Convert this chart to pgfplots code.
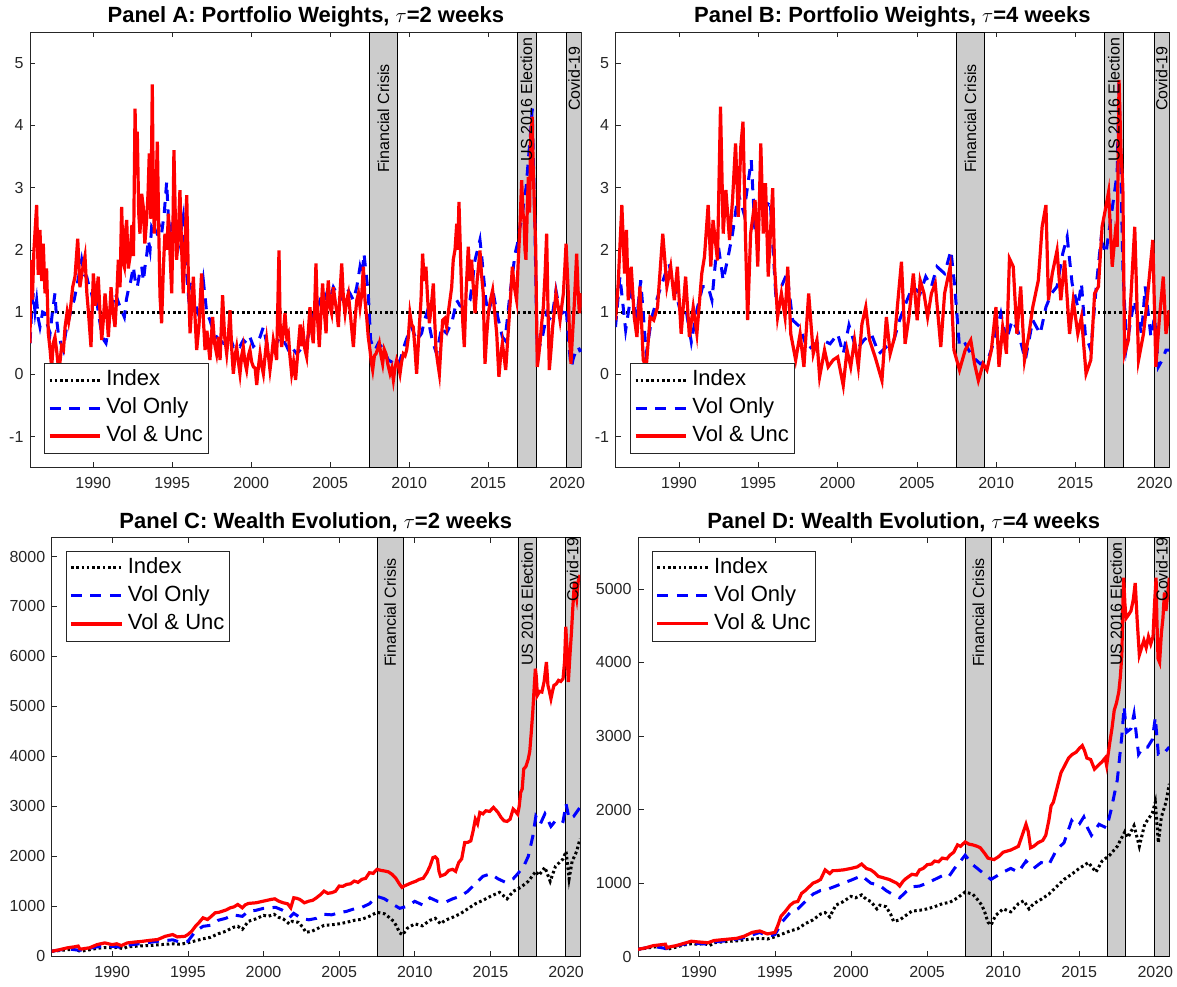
\documentclass[border=0pt]{standalone}
\usepackage{fontspec}
\setmainfont{Liberation Sans}
\usepackage{pgfplots}
\usepackage{pgfplotstable}
\pgfplotsset{compat=1.18}
\definecolor{axgray}{gray}{0.15}
\definecolor{bandgray}{gray}{0.8}

\pgfplotstableread{
x y
1986.00 0.50
1986.05 1.84
1986.15 1.20
1986.25 2.00
1986.42 2.72
1986.52 1.60
1986.63 2.32
1986.74 1.50
1986.84 2.10
1986.95 1.30
1987.05 1.70
1987.16 0.66
1987.27 0.40
1987.37 0.10
1987.47 0.50
1987.58 0.60
1987.70 0.35
1987.80 0.10
1987.90 0.20
1988.00 0.45
1988.12 0.40
1988.22 0.76
1988.35 1.00
1988.45 0.85
1988.53 0.98
1988.70 1.40
1988.85 1.57
1989.02 2.18
1989.16 1.40
1989.30 1.65
1989.48 1.90
1989.60 1.30
1989.69 1.03
1989.86 0.44
1990.01 1.62
1990.15 1.10
1990.32 1.57
1990.43 1.00
1990.54 0.55
1990.65 0.90
1990.75 1.30
1990.85 1.00
1990.96 0.60
1991.05 1.00
1991.13 1.40
1991.25 1.00
1991.38 0.76
1991.50 1.30
1991.59 1.84
1991.70 1.40
1991.80 2.69
1991.90 1.80
1991.97 1.73
1992.05 2.30
1992.12 2.48
1992.22 1.70
1992.33 1.89
1992.45 2.40
1992.55 1.90
1992.65 4.27
1992.72 3.20
1992.79 3.90
1992.88 2.60
1992.96 2.26
1993.07 2.90
1993.17 2.69
1993.27 2.10
1993.38 2.48
1993.47 2.90
1993.55 3.55
1993.65 2.50
1993.74 4.66
1993.80 3.00
1993.87 2.26
1993.96 2.80
1994.06 3.74
1994.15 2.30
1994.23 1.25
1994.33 0.82
1994.44 1.70
1994.54 2.26
1994.66 2.00
1994.76 2.58
1994.87 1.90
1994.97 1.30
1995.05 2.40
1995.11 3.60
1995.20 2.50
1995.28 1.84
1995.38 2.20
1995.49 2.96
1995.60 2.00
1995.70 1.30
1995.80 2.00
1995.92 2.88
1996.02 1.60
1996.13 0.66
1996.24 1.10
1996.34 1.57
1996.45 0.90
1996.55 0.39
1996.70 0.80
1996.86 1.62
1996.97 0.90
1997.08 0.39
1997.20 0.70
1997.30 0.45
1997.39 0.23
1997.56 0.92
1997.68 0.50
1997.81 0.33
1997.92 0.60
1998.03 0.23
1998.19 1.27
1998.32 0.60
1998.45 0.33
1998.55 0.60
1998.66 1.03
1998.77 0.40
1998.87 0.01
1998.98 0.30
1999.08 0.44
1999.19 0.20
1999.29 0.01
1999.40 0.30
1999.50 0.44
1999.60 0.20
1999.71 0.07
1999.82 0.30
1999.92 0.39
2000.03 0.20
2000.14 0.12
2000.25 0.10
2000.35 -0.17
2000.45 0.10
2000.56 0.33
2000.66 0.15
2000.77 0.01
2000.88 0.30
2000.98 0.55
2001.09 0.30
2001.19 0.07
2001.30 0.30
2001.40 0.55
2001.51 0.40
2001.61 0.23
2001.76 1.99
2001.84 0.70
2001.93 0.44
2002.04 0.70
2002.14 0.98
2002.25 0.60
2002.35 0.66
2002.45 0.30
2002.56 0.01
2002.68 0.20
2002.81 -0.09
2002.90 0.20
2002.98 0.44
2003.10 0.80
2003.20 0.45
2003.30 0.66
2003.40 0.40
2003.51 0.28
2003.62 0.70
2003.72 1.08
2003.82 0.70
2003.93 0.50
2004.02 1.10
2004.10 1.78
2004.20 0.90
2004.31 0.44
2004.42 1.00
2004.52 1.46
2004.63 1.00
2004.74 0.66
2004.81 1.20
2004.88 1.51
2004.98 1.10
2005.09 0.98
2005.20 1.40
2005.31 1.19
2005.42 1.00
2005.52 0.76
2005.62 1.30
2005.73 1.78
2005.84 1.20
2005.94 0.98
2006.05 1.20
2006.15 1.30
2006.30 0.90
2006.47 0.44
2006.58 0.90
2006.68 1.19
2006.79 1.30
2006.89 1.08
2007.00 1.30
2007.10 1.73
2007.20 1.20
2007.31 0.92
2007.41 0.60
2007.52 0.39
2007.60 0.20
2007.69 0.07
2007.80 0.30
2007.90 0.33
2008.00 0.40
2008.11 0.50
2008.22 0.30
2008.32 0.17
2008.42 0.40
2008.53 0.33
2008.66 0.15
2008.79 0.01
2008.90 0.10
2009.00 -0.09
2009.10 0.10
2009.21 0.23
2009.31 0.15
2009.42 0.01
2009.52 0.20
2009.63 0.33
2009.74 0.30
2009.84 0.39
2009.95 0.60
2010.05 0.98
2010.16 0.80
2010.26 0.76
2010.37 0.40
2010.47 0.01
2010.56 0.40
2010.64 0.76
2010.75 1.20
2010.85 1.94
2010.95 1.50
2011.06 1.73
2011.17 1.20
2011.28 0.82
2011.40 1.10
2011.53 1.46
2011.61 0.90
2011.70 0.39
2011.80 0.20
2011.91 0.01
2012.02 0.50
2012.12 0.87
2012.25 0.90
2012.37 0.76
2012.48 1.00
2012.58 1.19
2012.69 1.40
2012.79 1.84
2012.90 2.00
2013.01 2.42
2013.08 2.00
2013.15 2.77
2013.24 2.00
2013.32 1.30
2013.40 0.80
2013.49 0.44
2013.60 1.30
2013.74 2.05
2013.85 1.50
2013.95 1.84
2014.06 1.40
2014.17 0.98
2014.30 1.50
2014.48 1.99
2014.58 1.60
2014.69 1.30
2014.75 0.60
2014.80 0.17
2014.90 0.60
2015.01 0.98
2015.15 1.20
2015.28 1.35
2015.41 1.00
2015.54 0.66
2015.61 0.30
2015.68 -0.04
2015.79 0.30
2015.90 0.50
2016.00 0.30
2016.11 0.07
2016.22 0.50
2016.32 0.87
2016.43 1.30
2016.53 1.73
2016.66 1.40
2016.80 1.19
2016.90 1.80
2017.01 2.37
2017.12 3.12
2017.20 2.60
2017.27 2.48
2017.33 2.00
2017.39 1.84
2017.47 2.60
2017.54 3.17
2017.62 2.60
2017.69 3.82
2017.79 4.14
2017.85 3.30
2017.90 2.91
2017.96 2.40
2018.01 2.05
2018.06 1.00
2018.11 0.12
2018.20 0.30
2018.28 0.50
2018.38 0.80
2018.49 1.08
2018.60 1.60
2018.70 2.26
2018.79 1.00
2018.87 0.07
2018.98 0.40
2019.08 0.76
2019.18 1.00
2019.29 1.30
2019.42 1.10
2019.55 0.87
2019.66 1.10
2019.76 1.30
2019.85 1.70
2019.93 2.10
2020.00 1.70
2020.07 1.30
2020.15 0.60
2020.24 0.17
2020.33 0.60
2020.43 1.03
2020.52 1.50
2020.60 1.94
2020.68 1.40
2020.77 0.98
2020.85 1.20
2020.92 1.30
}\tAred

\pgfplotstableread{
x y
1986.00 0.50
1986.10 1.00
1986.21 1.30
1986.32 1.00
1986.42 1.19
1986.52 0.90
1986.63 0.76
1986.80 1.00
1986.95 0.98
1987.10 0.80
1987.27 0.66
1987.42 1.00
1987.58 1.30
1987.68 0.90
1987.79 0.66
1987.95 0.50
1988.11 0.39
1988.22 0.60
1988.32 0.76
1988.48 0.90
1988.64 1.08
1988.80 1.20
1988.95 1.40
1989.10 1.60
1989.27 1.84
1989.43 1.60
1989.59 1.57
1989.75 1.40
1989.90 1.30
1990.05 1.10
1990.22 1.19
1990.38 0.90
1990.54 0.66
1990.68 0.55
1990.81 0.50
1990.94 0.70
1991.06 0.98
1991.22 1.10
1991.38 1.30
1991.54 1.20
1991.70 1.08
1991.84 1.00
1991.97 0.92
1992.10 1.20
1992.22 1.35
1992.38 1.50
1992.54 1.73
1992.66 1.50
1992.79 1.40
1992.92 1.60
1993.07 1.73
1993.18 1.50
1993.28 1.73
1993.38 1.90
1993.49 2.16
1993.60 2.00
1993.70 2.37
1993.86 2.30
1994.02 2.26
1994.18 2.40
1994.33 2.26
1994.50 2.60
1994.65 3.09
1994.76 2.50
1994.86 2.16
1994.97 2.40
1995.07 2.37
1995.23 2.20
1995.39 2.05
1995.55 2.30
1995.70 2.53
1995.86 1.80
1996.02 1.30
1996.18 1.50
1996.34 1.30
1996.50 1.10
1996.65 0.98
1996.81 1.20
1996.97 1.51
1997.18 1.00
1997.39 0.87
1997.60 0.70
1997.81 0.60
1998.02 0.55
1998.24 0.50
1998.45 0.55
1998.66 0.60
1998.87 0.45
1999.08 0.50
1999.29 0.45
1999.50 0.55
1999.71 0.50
1999.92 0.60
2000.14 0.45
2000.35 0.50
2000.56 0.60
2000.77 0.76
2000.98 0.50
2001.19 0.39
2001.40 0.45
2001.61 0.50
2001.82 0.60
2002.03 0.55
2002.25 0.45
2002.46 0.33
2002.67 0.40
2002.88 0.33
2003.09 0.39
2003.30 0.45
2003.51 0.50
2003.72 0.75
2003.93 0.98
2004.15 1.05
2004.36 1.19
2004.57 1.10
2004.78 1.30
2004.99 1.20
2005.20 1.40
2005.41 1.30
2005.62 1.19
2005.83 1.30
2006.04 1.40
2006.25 1.30
2006.47 1.19
2006.68 1.40
2006.89 1.73
2007.02 1.60
2007.14 1.94
2007.28 1.60
2007.41 1.30
2007.56 0.55
2007.70 0.45
2007.84 0.39
2008.05 0.50
2008.26 0.44
2008.47 0.35
2008.68 0.23
2008.89 0.20
2009.10 0.12
2009.26 0.15
2009.42 0.23
2009.58 0.35
2009.74 0.50
2009.95 0.65
2010.16 0.76
2010.31 0.65
2010.47 0.55
2010.63 0.60
2010.79 0.66
2010.95 0.85
2011.11 0.98
2011.26 0.80
2011.42 0.60
2011.58 0.45
2011.74 0.33
2011.90 0.55
2012.06 0.76
2012.21 0.70
2012.37 0.66
2012.53 0.75
2012.69 0.82
2012.85 1.00
2013.01 1.19
2013.22 1.10
2013.43 1.08
2013.64 1.15
2013.85 1.19
2014.01 1.50
2014.17 1.84
2014.33 2.00
2014.48 2.16
2014.59 1.90
2014.69 1.62
2014.85 1.20
2015.01 0.98
2015.17 1.15
2015.33 1.30
2015.54 1.00
2015.75 0.76
2015.90 0.60
2016.06 0.55
2016.22 0.90
2016.38 1.30
2016.54 1.60
2016.70 1.94
2016.86 2.10
2017.01 2.37
2017.14 2.50
2017.27 2.80
2017.40 3.00
2017.54 3.44
2017.66 3.80
2017.79 4.27
2017.88 3.20
2017.96 2.37
2018.03 1.30
2018.11 0.33
2018.25 0.45
2018.39 0.55
2018.55 0.75
2018.70 0.98
2018.86 0.90
2019.02 0.87
2019.15 1.10
2019.29 1.35
2019.47 1.10
2019.65 0.98
2019.79 1.00
2019.93 1.08
2020.04 0.70
2020.14 0.39
2020.21 0.20
2020.28 0.12
2020.38 0.25
2020.49 0.33
2020.60 0.40
2020.70 0.44
2020.80 0.38
2020.92 0.39
}\tAblue

\pgfplotstableread{
x y
1986.00 0.87
1986.17 1.46
1986.40 2.72
1986.57 1.62
1986.69 2.32
1986.80 1.19
1986.99 1.73
1987.18 0.92
1987.35 0.60
1987.54 1.41
1987.75 0.23
1987.94 0.12
1988.18 0.92
1988.41 0.87
1988.65 1.08
1988.98 2.26
1989.24 1.41
1989.48 1.73
1989.71 1.19
1989.90 1.73
1990.14 0.65
1990.42 1.57
1990.66 0.60
1990.90 1.08
1991.13 0.65
1991.44 1.62
1991.61 1.89
1991.84 2.72
1992.01 1.73
1992.15 2.48
1992.43 1.83
1992.62 4.30
1992.79 2.26
1992.96 2.96
1993.19 2.16
1993.38 2.80
1993.57 3.71
1993.74 2.53
1993.90 3.66
1994.04 4.06
1994.19 2.26
1994.33 0.87
1994.52 2.26
1994.80 2.80
1994.97 1.73
1995.16 3.71
1995.32 2.26
1995.46 3.07
1995.63 1.57
1995.91 2.99
1996.03 1.73
1996.22 0.92
1996.46 1.30
1996.69 0.92
1996.86 1.73
1997.05 0.65
1997.36 0.23
1997.64 0.65
1997.88 0.12
1998.18 1.30
1998.47 0.33
1998.70 0.55
1998.87 -0.04
1999.18 0.39
1999.41 0.12
1999.72 0.23
2000.01 0.28
2000.36 -0.18
2000.60 0.39
2000.83 0.12
2001.07 0.55
2001.31 0.12
2001.54 0.81
2001.78 1.08
2002.02 0.55
2002.37 0.28
2002.80 -0.10
2003.08 0.92
2003.32 0.33
2003.60 0.60
2004.03 1.81
2004.26 0.49
2004.50 0.92
2004.78 1.62
2005.02 0.87
2005.21 1.51
2005.45 1.30
2005.68 0.92
2005.92 1.30
2006.16 1.46
2006.51 0.44
2006.75 1.30
2007.10 1.73
2007.34 0.39
2007.69 0.07
2008.05 0.39
2008.40 0.55
2008.64 0.17
2008.88 -0.10
2009.18 0.17
2009.42 0.07
2009.70 0.39
2009.99 1.08
2010.18 0.12
2010.41 0.76
2010.65 0.33
2010.84 1.86
2011.08 1.73
2011.31 0.65
2011.55 1.41
2011.79 0.23
2012.07 0.65
2012.31 1.08
2012.66 1.51
2012.90 2.37
2013.14 2.72
2013.30 1.19
2013.54 1.62
2013.84 1.99
2014.08 1.19
2014.32 1.83
2014.63 0.65
2014.86 1.19
2015.15 0.65
2015.38 0.92
2015.67 0.01
2015.97 0.23
2016.21 1.30
2016.45 1.41
2016.68 2.37
2016.92 2.69
2017.09 2.93
2017.32 1.73
2017.51 2.26
2017.63 2.05
2017.75 4.73
2017.87 3.60
2017.99 3.01
2018.10 0.33
2018.34 0.55
2018.51 1.30
2018.74 2.37
2018.98 0.23
2019.29 0.65
2019.52 1.19
2019.88 2.16
2020.07 0.12
2020.30 0.92
2020.54 1.57
2020.71 0.65
2020.92 1.03
}\tBred

\pgfplotstableread{
x y
1986.00 0.76
1986.28 1.57
1986.64 0.71
1986.99 1.30
1987.35 0.92
1987.59 1.51
1987.94 0.33
1988.29 0.92
1988.65 1.24
1989.00 1.51
1989.36 1.78
1989.71 1.41
1990.07 1.03
1990.42 1.08
1990.78 0.52
1991.13 1.03
1991.49 1.41
1991.84 1.41
1992.08 1.19
1992.43 2.16
1992.79 1.51
1993.14 1.94
1993.38 2.26
1993.74 2.91
1994.09 2.59
1994.56 3.44
1994.80 2.26
1995.16 2.59
1995.51 2.69
1995.75 2.80
1996.10 1.30
1996.46 1.41
1996.81 1.62
1997.17 0.87
1997.64 0.76
1998.11 0.39
1998.59 0.49
1999.06 0.55
1999.53 0.49
2000.01 0.65
2000.36 0.33
2000.72 0.79
2001.19 0.39
2001.66 0.55
2002.13 0.65
2002.61 0.33
2003.08 0.44
2003.55 0.55
2003.91 0.87
2004.38 1.19
2004.74 1.41
2005.21 1.30
2005.56 1.57
2005.92 1.41
2006.27 1.73
2006.75 1.62
2007.15 1.99
2007.39 1.41
2007.69 0.44
2008.05 0.49
2008.52 0.28
2009.00 0.17
2009.47 0.23
2009.82 0.49
2010.30 0.98
2010.65 0.55
2011.01 0.87
2011.36 0.71
2011.84 0.23
2012.31 0.87
2012.78 0.65
2013.14 1.08
2013.49 1.30
2013.84 1.41
2014.20 1.94
2014.48 2.21
2014.79 1.46
2015.15 1.08
2015.38 1.46
2015.62 0.65
2015.97 0.39
2016.33 1.46
2016.61 2.16
2016.92 1.94
2017.28 2.59
2017.63 3.23
2017.75 4.73
2017.99 1.73
2018.22 0.44
2018.70 1.19
2019.17 0.65
2019.40 1.41
2019.76 0.60
2019.99 0.92
2020.23 0.12
2020.47 0.23
2020.71 0.39
2020.92 0.39
}\tBblue

\pgfplotstableread{
x y
1986.00 100
1986.50 115
1987.00 130
1987.60 145
1987.80 110
1988.00 105
1988.50 130
1989.00 160
1989.50 175
1990.00 170
1990.40 180
1990.70 150
1991.00 190
1991.50 200
1992.00 210
1992.50 215
1993.00 230
1993.50 240
1994.00 250
1994.50 240
1995.00 270
1995.50 310
1996.00 350
1996.50 380
1997.00 450
1997.50 500
1998.00 580
1998.30 600
1998.60 540
1999.00 700
1999.50 750
2000.00 820
2000.30 800
2000.70 840
2001.00 780
2001.30 750
2001.70 650
2001.90 700
2002.30 680
2002.60 580
2002.80 480
2003.20 500
2003.60 560
2004.00 620
2004.50 630
2005.00 650
2005.50 680
2006.00 720
2006.50 740
2007.00 800
2007.50 880
2008.00 850
2008.30 780
2008.60 700
2008.80 600
2009.00 470
2009.20 430
2009.50 560
2010.00 650
2010.50 610
2011.00 720
2011.35 760
2011.70 650
2012.00 720
2012.50 780
2013.00 850
2013.50 950
2014.00 1050
2014.50 1120
2015.00 1200
2015.60 1280
2016.10 1150
2016.50 1300
2017.00 1380
2017.50 1500
2018.00 1700
2018.20 1620
2018.60 1780
2018.95 1500
2019.30 1800
2019.80 1950
2020.00 2100
2020.20 1550
2020.40 1900
2020.70 2100
2020.92 2350
}\tIdx

\pgfplotstableread{
x y
1986.00 100
1987.00 150
1987.85 120
1988.00 130
1989.00 190
1990.00 200
1990.60 180
1991.00 220
1992.00 260
1993.00 300
1994.00 330
1994.50 280
1995.00 300
1995.50 500
1996.00 600
1996.50 620
1997.00 720
1997.50 760
1998.00 830
1998.60 800
1999.00 900
1999.50 920
2000.00 960
2000.80 980
2001.20 930
2001.50 880
2001.80 800
2002.00 860
2002.50 760
2003.00 730
2003.50 760
2004.00 840
2004.50 830
2005.00 870
2005.50 900
2006.00 950
2006.50 980
2007.00 1050
2007.50 1200
2008.00 1150
2008.50 1050
2009.00 960
2009.50 1000
2010.00 1100
2010.50 1030
2011.00 1170
2011.50 1100
2012.00 1080
2012.50 1150
2013.00 1200
2013.50 1300
2014.00 1450
2014.50 1600
2015.00 1650
2015.50 1550
2016.00 1480
2016.50 1550
2016.80 1650
2017.20 1800
2017.50 2000
2017.80 2400
2018.00 2800
2018.30 2650
2018.60 2850
2019.00 2600
2019.40 2750
2019.80 2700
2020.00 3050
2020.20 2750
2020.50 2800
2020.92 2980
}\tCblue

\pgfplotstableread{
x y
1986.00 100
1986.50 130
1987.00 167
1987.50 190
1987.75 205
1987.85 150
1988.00 147
1988.50 170
1989.00 234
1989.50 268
1990.00 234
1990.30 250
1990.60 214
1991.00 268
1991.50 285
1992.00 300
1992.50 320
1993.00 335
1993.50 400
1994.00 435
1994.30 388
1994.80 400
1995.00 435
1995.25 500
1995.50 600
1995.75 680
1996.00 770
1996.30 736
1996.55 800
1996.80 870
1997.05 880
1997.30 904
1997.55 930
1997.80 970
1998.05 990
1998.30 1037
1998.60 970
1998.80 1030
1999.00 1058
1999.50 1071
2000.00 1104
2000.50 1138
2000.75 1150
2001.00 1104
2001.30 1071
2001.60 1050
2001.80 970
2002.00 1171
2002.20 1160
2002.40 1138
2002.70 1071
2003.00 1104
2003.25 1120
2003.50 1171
2003.75 1230
2004.00 1305
2004.25 1260
2004.50 1272
2004.75 1300
2005.00 1406
2005.25 1400
2005.50 1439
2005.75 1450
2006.00 1506
2006.25 1480
2006.50 1540
2006.75 1560
2007.00 1673
2007.25 1660
2007.50 1740
2007.75 1720
2008.00 1707
2008.25 1690
2008.50 1640
2008.75 1560
2009.00 1439
2009.15 1380
2009.30 1406
2009.55 1440
2009.80 1473
2010.05 1500
2010.30 1540
2010.55 1560
2010.80 1673
2011.00 1800
2011.20 1975
2011.35 1990
2011.50 1941
2011.60 1700
2011.70 1606
2012.00 1640
2012.25 1720
2012.50 1740
2012.70 1700
2012.90 1874
2013.10 1950
2013.30 2276
2013.50 2280
2013.70 2309
2013.85 2500
2014.00 2744
2014.15 2650
2014.30 2878
2014.50 2850
2014.70 2912
2014.95 2900
2015.20 2979
2015.35 2930
2015.50 2878
2015.70 2780
2015.90 2711
2016.10 2700
2016.30 2744
2016.50 2945
2016.65 2900
2016.80 2845
2016.90 3000
2017.00 3280
2017.10 3350
2017.20 3748
2017.35 3800
2017.50 3949
2017.60 4100
2017.70 4485
2017.80 4900
2017.90 5422
2017.97 5756
2018.03 5600
2018.10 5221
2018.25 5300
2018.40 5288
2018.55 5500
2018.70 5890
2018.80 5422
2018.90 5300
2019.00 5154
2019.10 5300
2019.20 5422
2019.35 5450
2019.50 5522
2019.65 5500
2019.80 5556
2019.90 5900
2019.98 6593
2020.05 6200
2020.15 5489
2020.25 6000
2020.35 6459
2020.45 7000
2020.55 7497
2020.62 7300
2020.70 7162
2020.80 7500
2020.92 7631
}\tCred

\pgfplotstableread{
x y
1986.00 100
1987.00 140
1987.90 110
1988.00 120
1989.00 170
1990.00 180
1990.60 170
1991.00 200
1992.00 220
1993.00 260
1994.00 330
1994.50 280
1995.00 300
1995.50 480
1996.00 600
1996.50 650
1997.00 750
1997.50 850
1998.00 900
1998.50 920
1999.00 960
1999.50 1000
2000.00 1040
2000.70 1100
2001.00 1050
2001.30 1000
2001.70 980
2002.00 950
2002.30 900
2002.70 850
2003.20 800
2003.60 880
2004.00 950
2004.50 960
2005.00 1000
2005.50 1050
2006.00 1100
2006.40 1080
2006.80 1200
2007.20 1300
2007.50 1380
2008.00 1250
2008.30 1200
2008.60 1150
2009.20 1050
2009.60 1100
2010.00 1150
2010.50 1200
2011.00 1150
2011.50 1300
2012.00 1200
2012.50 1280
2013.00 1250
2013.50 1450
2014.00 1550
2014.50 1850
2014.75 1780
2015.00 1800
2015.30 1900
2015.55 1750
2015.80 1650
2016.30 1800
2016.80 1750
2017.10 2000
2017.50 2400
2017.80 3000
2017.95 3400
2018.10 3050
2018.40 3100
2018.60 3300
2018.90 2750
2019.20 2850
2019.50 2850
2019.80 2950
2020.00 3250
2020.20 2750
2020.50 2750
2020.92 2850
}\tDblue

\pgfplotstableread{
x y
1986.00 100
1986.50 120
1987.00 150
1987.80 170
1987.90 120
1988.00 130
1988.50 150
1989.00 180
1989.50 210
1990.00 200
1990.60 190
1991.00 220
1991.50 230
1992.00 240
1992.50 250
1993.00 280
1993.50 330
1994.00 350
1994.50 310
1995.00 330
1995.20 430
1995.40 550
1995.70 620
1996.00 700
1996.25 740
1996.50 750
1996.75 860
1997.00 900
1997.25 950
1997.50 1000
1997.75 1020
1998.00 1050
1998.30 1180
1998.60 1130
1998.80 1170
1999.00 1170
1999.50 1180
2000.00 1200
2000.40 1220
2000.70 1260
2001.00 1200
2001.30 1180
2001.50 1150
2001.80 1090
2002.00 1080
2002.50 1050
2003.00 1000
2003.20 960
2003.40 1020
2003.60 1060
2004.00 1120
2004.30 1110
2004.50 1180
2004.75 1200
2005.00 1250
2005.30 1260
2005.50 1300
2005.75 1290
2006.00 1340
2006.30 1330
2006.50 1380
2006.75 1420
2007.00 1520
2007.20 1500
2007.50 1560
2007.75 1530
2008.00 1520
2008.30 1500
2008.50 1480
2008.80 1400
2009.00 1340
2009.40 1320
2009.70 1360
2010.00 1420
2010.50 1450
2011.00 1500
2011.25 1650
2011.50 1800
2011.65 1700
2011.80 1480
2012.00 1500
2012.30 1550
2012.60 1580
2012.80 1650
2013.00 1850
2013.15 2050
2013.30 2100
2013.55 2300
2013.80 2500
2014.05 2600
2014.30 2700
2014.55 2750
2014.80 2780
2015.00 2830
2015.20 2870
2015.35 2800
2015.50 2700
2015.75 2680
2016.00 2550
2016.25 2600
2016.50 2650
2016.70 2700
2016.80 2600
2017.00 2900
2017.15 3100
2017.30 3350
2017.45 3450
2017.60 3600
2017.70 3800
2017.80 4100
2017.87 4800
2017.92 5150
2018.00 4800
2018.08 4600
2018.25 4650
2018.40 4700
2018.55 4850
2018.68 5080
2018.80 4600
2018.95 4100
2019.10 4200
2019.25 4300
2019.40 4200
2019.55 4350
2019.70 4250
2019.85 4350
2019.95 4800
2020.05 5150
2020.10 4600
2020.18 4050
2020.28 4000
2020.40 4400
2020.50 4600
2020.60 4950
2020.70 4700
2020.80 4900
2020.92 5150
}\tDred

\pgfplotsset{
  myaxis/.style={
    scale only axis,
    xmin=1986, xmax=2020.92,
    xtick={1990,1995,2000,2005,2010,2015,2020},
    scaled ticks=false,
    /pgf/number format/1000 sep={},
    /pgf/number format/assume math mode=true,
    tick label style={font=\fontsize{16}{19}\selectfont, text=axgray},
    axis line style={axgray, line width=0.6pt},
    major tick style={axgray, line width=0.6pt},
    major tick length=5.5pt,
    xticklabel style={yshift=-6pt},
    yticklabel style={xshift=-3pt},
    every axis title/.style={at={(0.5,1)}, anchor=base, yshift=9pt,
      font=\bfseries\fontsize{22}{26}\selectfont},
    legend cell align=left,
    legend style={font=\fontsize{22}{26}\selectfont, draw=axgray,
      line width=0.6pt, fill=white, inner xsep=3.5pt, inner ysep=5pt,
      row sep=4pt, column sep=3pt,
      nodes={inner xsep=1.5pt, inner ysep=2pt, text height=15.5pt, text depth=4.5pt}},
    legend image code/.code={\draw[#1] (0pt,0pt) -- (50.7pt,0pt);},
  },
  idx/.style={black, line width=3pt, dash pattern=on 2.6pt off 2.7pt},
  vol/.style={blue, line width=3pt, dash pattern=on 11pt off 8.5pt},
  unc/.style={red, line width=3.2pt},
  band/.style={fill=bandgray, draw=black, line width=0.6pt, forget plot},
}
\tikzset{evt/.style={rotate=90, anchor=west, inner sep=0pt, font=\fontsize{16}{19}\selectfont}}

\begin{document}
\begin{tikzpicture}
\path[use as bounding box] (0pt,0pt) rectangle (1177pt,986pt);

% Panel A
\begin{axis}[myaxis, at={(30pt,518.3pt)}, anchor=south west,
  width=551.7pt, height=435.7pt,
  ymin=-1.5, ymax=5.5, ytick={-1,0,1,2,3,4,5},
  title={Panel A: Portfolio Weights, $\tau$=2 weeks},
  legend style={at={(0.0257,0.033)}, anchor=south west}]
\addplot[band] coordinates {(2007.5,-1.5) (2009.25,-1.5) (2009.25,5.5) (2007.5,5.5)} -- cycle;
\addplot[band] coordinates {(2016.82,-1.5) (2018.02,-1.5) (2018.02,5.5) (2016.82,5.5)} -- cycle;
\addplot[band] coordinates {(2019.95,-1.5) (2020.92,-1.5) (2020.92,5.5) (2019.95,5.5)} -- cycle;
\addplot[idx] coordinates {(1986,1) (2020.92,1)};
\addplot[vol] table[x=x,y=y] {\tAblue};
\addplot[unc] table[x=x,y=y] {\tAred};
\legend{Index, Vol Only, Vol \& Unc}
\node[evt] at (axis cs:2008.375,3.235) {Financial Crisis};
\node[evt] at (axis cs:2017.42,3.42) {US 2016 Election};
\node[evt] at (axis cs:2020.435,4.23) {Covid-19};
\end{axis}

% Panel B
\begin{axis}[myaxis, at={(615.5pt,518.3pt)}, anchor=south west,
  width=553.8pt, height=435.7pt,
  ymin=-1.5, ymax=5.5, ytick={-1,0,1,2,3,4,5},
  title={Panel B: Portfolio Weights, $\tau$=4 weeks},
  legend style={at={(0.0264,0.033)}, anchor=south west}]
\addplot[band] coordinates {(2007.5,-1.5) (2009.25,-1.5) (2009.25,5.5) (2007.5,5.5)} -- cycle;
\addplot[band] coordinates {(2016.82,-1.5) (2018.02,-1.5) (2018.02,5.5) (2016.82,5.5)} -- cycle;
\addplot[band] coordinates {(2019.95,-1.5) (2020.92,-1.5) (2020.92,5.5) (2019.95,5.5)} -- cycle;
\addplot[idx] coordinates {(1986,1) (2020.92,1)};
\addplot[vol] table[x=x,y=y] {\tBblue};
\addplot[unc] table[x=x,y=y] {\tBred};
\legend{Index, Vol Only, Vol \& Unc}
\node[evt] at (axis cs:2008.375,3.235) {Financial Crisis};
\node[evt] at (axis cs:2017.42,3.42) {US 2016 Election};
\node[evt] at (axis cs:2020.435,4.23) {Covid-19};
\end{axis}

% Panel C
\begin{axis}[myaxis, at={(51.7pt,29.7pt)}, anchor=south west,
  width=528.3pt, height=418.8pt,
  ymin=0, ymax=8380, ytick={0,1000,2000,3000,4000,5000,6000,7000,8000},
  title={Panel C: Wealth Evolution, $\tau$=2 weeks},
  legend style={at={(0.0263,0.9685)}, anchor=north west}]
\addplot[band] coordinates {(2007.5,0) (2009.25,0) (2009.25,8380) (2007.5,8380)} -- cycle;
\addplot[band] coordinates {(2016.82,0) (2018.02,0) (2018.02,8380) (2016.82,8380)} -- cycle;
\addplot[band] coordinates {(2019.95,0) (2020.92,0) (2020.92,8380) (2019.95,8380)} -- cycle;
\addplot[idx] table[x=x,y=y] {\tIdx};
\addplot[vol] table[x=x,y=y] {\tCblue};
\addplot[unc] table[x=x,y=y] {\tCred};
\legend{Index, Vol Only, Vol \& Unc}
\node[evt] at (axis cs:2008.375,5788) {Financial Crisis};
\node[evt] at (axis cs:2017.42,5808) {US 2016 Election};
\node[evt] at (axis cs:2020.435,7089) {Covid-19};
\end{axis}

% Panel D
\begin{axis}[myaxis, at={(638pt,29.3pt)}, anchor=south west,
  width=531.3pt, height=419.4pt,
  ymin=0, ymax=5700, ytick={0,1000,2000,3000,4000,5000},
  title={Panel D: Wealth Evolution, $\tau$=4 weeks},
  legend style={at={(0.0262,0.9685)}, anchor=north west}]
\addplot[band] coordinates {(2007.5,0) (2009.25,0) (2009.25,5700) (2007.5,5700)} -- cycle;
\addplot[band] coordinates {(2016.82,0) (2018.02,0) (2018.02,5700) (2016.82,5700)} -- cycle;
\addplot[band] coordinates {(2019.95,0) (2020.92,0) (2020.92,5700) (2019.95,5700)} -- cycle;
\addplot[idx] table[x=x,y=y] {\tIdx};
\addplot[vol] table[x=x,y=y] {\tDblue};
\addplot[unc] table[x=x,y=y] {\tDred};
\legend{Index, Vol Only, Vol \& Unc}
\node[evt] at (axis cs:2008.375,3937) {Financial Crisis};
\node[evt] at (axis cs:2017.42,3951) {US 2016 Election};
\node[evt] at (axis cs:2020.435,4825) {Covid-19};
\end{axis}
\end{tikzpicture}
\end{document}
